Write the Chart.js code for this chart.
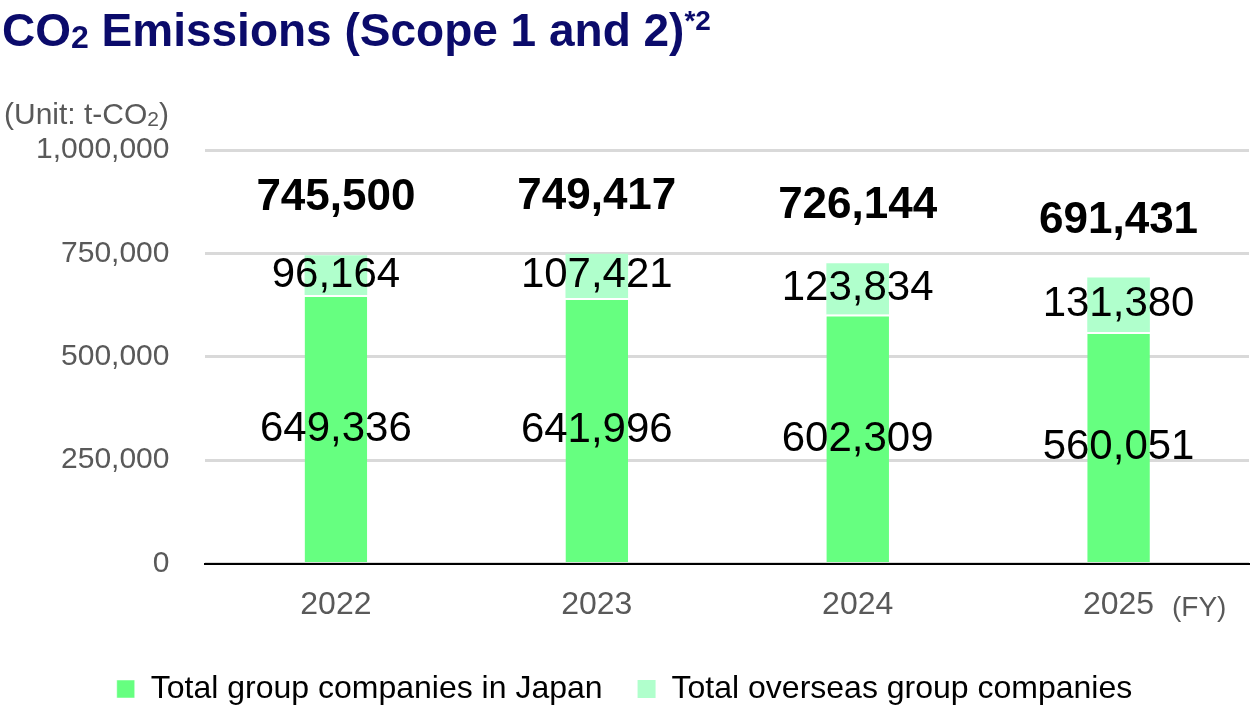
<!DOCTYPE html><html><head><meta charset="utf-8">
<script src="https://cdn.jsdelivr.net/npm/chart.js@4/dist/chart.umd.min.js"></script>
<style>html,body{margin:0;padding:0;background:#fff}#w{width:1251px;height:719px;position:relative}</style></head><body>
<div id="w"><canvas id="c"></canvas></div>
<script>
const years=['2022','2023','2024','2025'];
const japan=[649336,641996,602309,560051];
const overseas=[96164,107421,123834,131380];
const totals=[745500,749417,726144,691431];
const yTicks=[0,250000,500000,750000,1000000];
const F='"Liberation Sans Narrow", "Arial Narrow", "Liberation Sans", sans-serif';
const fmt=v=>v.toLocaleString('en-US');
const deco={id:'deco',afterDatasetsDraw(ch){
 const c=ch.ctx,x=ch.scales.x,y=ch.scales.y;c.save();
 c.textAlign='center';c.textBaseline='middle';
 years.forEach((yr,i)=>{const cx=x.getPixelForValue(i);
  c.fillStyle='#000';c.font='42px '+F;
  c.fillText(fmt(japan[i]),cx,y.getPixelForValue(japan[i]/2));
  c.fillText(fmt(overseas[i]),cx,y.getPixelForValue(japan[i]+overseas[i]/2));
  c.font='bold 44px '+F;
  c.fillText(fmt(totals[i]),cx,y.getPixelForValue(totals[i])-57);
 });
 c.textAlign='left';c.textBaseline='alphabetic';
 c.fillStyle='#0B0B6B';c.font='bold 46px '+F;
 let t='CO';c.fillText(t,2,46);let w=c.measureText(t).width;
 c.font='bold 32px '+F;c.fillText('2',2+w,48);w+=c.measureText('2').width;
 c.font='bold 46px '+F;const r=' Emissions (Scope 1 and 2)';c.fillText(r,2+w,46);w+=c.measureText(r).width;
 c.font='bold 28px '+F;c.fillText('*2',2+w,30);
 c.fillStyle='#595959';c.font='30px '+F;
 t='(Unit: t-CO';c.fillText(t,4,124);w=c.measureText(t).width;
 c.font='21px '+F;c.fillText('2',4+w,126);w+=c.measureText('2').width;
 c.font='30px '+F;c.fillText(')',4+w,124);
 c.font='28px '+F;c.fillText('(FY)',1172,616);
 c.restore();}};
new Chart(document.getElementById('c'),{type:'bar',
 data:{labels:years,datasets:[
  {label:'Total group companies in Japan',data:japan,backgroundColor:'#66FF80',borderColor:'#fff',borderWidth:{top:2},borderSkipped:false,barPercentage:0.24,categoryPercentage:1},
  {label:'Total overseas group companies',data:overseas,backgroundColor:'#B0FFCC',borderWidth:0,barPercentage:0.24,categoryPercentage:1}]},
 options:{responsive:true,maintainAspectRatio:false,animation:false,
  layout:{padding:{top:150,right:2,left:0,bottom:4}},
  plugins:{tooltip:{enabled:false},legend:{position:'bottom',labels:{font:{size:32,family:F},color:'#000',usePointStyle:true,pointStyle:'rect',boxWidth:18,boxHeight:18,padding:35}}},
  scales:{x:{stacked:true,grid:{display:false},border:{color:'#000',width:2},ticks:{font:{size:32,family:F},color:'#595959',padding:14}},
   y:{stacked:true,min:0,max:1000000,afterBuildTicks:a=>{a.ticks=yTicks.map(v=>({value:v}))},
    grid:{color:'#D9D9D9',lineWidth:3,drawTicks:false},border:{display:false},
    ticks:{font:{size:30,family:F},color:'#595959',padding:36,callback:v=>fmt(v)}}}},
 plugins:[deco]});
</script></body></html>
